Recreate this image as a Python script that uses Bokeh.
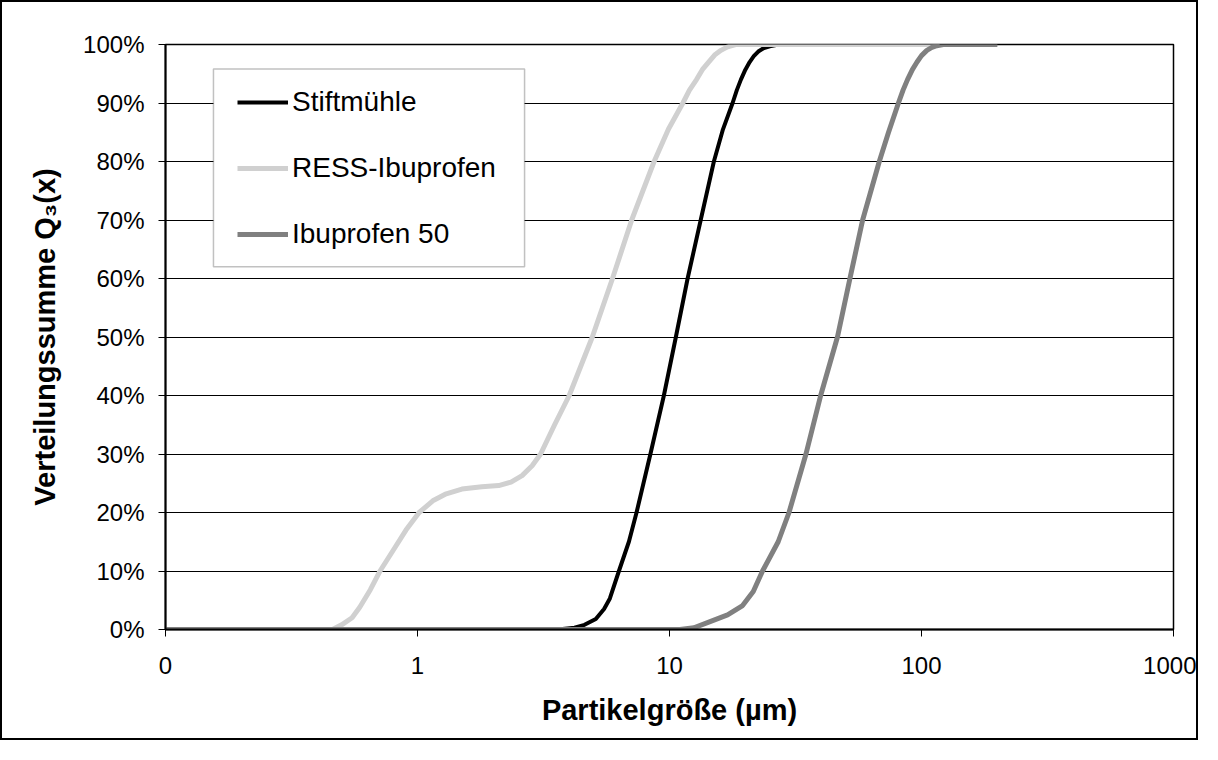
from bokeh.plotting import figure
from bokeh.models import FixedTicker, CustomJSTickFormatter, Legend, LegendItem, BoxAnnotation
from bokeh.embed import file_html
from bokeh.resources import INLINE

# ---- data (particle size in µm, cumulative distribution Q3 in %) ----
stift_x = [0.1, 3.6, 4.2, 4.6, 5.1, 5.5, 5.8, 6.3, 6.9, 7.4, 8.4, 9.5, 10.6, 11.8, 13.3, 15.0,
           16.3, 17.8, 18.5, 19.2, 20.0, 20.8, 21.6, 22.5, 23.7, 25, 26.5, 28, 120]
stift_y = [0, 0, 0.3, 0.8, 1.8, 3.5, 5.3, 10, 15, 20, 30, 40, 50, 60, 70, 80,
           85.5, 90, 92.2, 94, 95.7, 97, 98, 98.8, 99.4, 99.7, 99.9, 100, 100]

ress_x = [0.1, 0.46, 0.5, 0.55, 0.59, 0.65, 0.71, 0.8, 0.9, 1.015, 1.15, 1.3, 1.5, 1.8,
          2.1, 2.35, 2.6, 2.85, 3.08, 3.5, 4.0, 4.94, 5.94, 7.08, 8.69, 9.9, 11.3,
          12.0, 12.8, 13.5, 14.3, 15.1, 16, 17, 18.3, 118]
ress_y = [0, 0, 0.8, 2, 3.8, 6.8, 10, 13.5, 17, 20, 22, 23.2, 24, 24.4,
          24.6, 25.2, 26.3, 28, 30, 35, 40, 50, 60, 70, 80, 85.5, 90,
          92.2, 94, 95.7, 97, 98.2, 99, 99.6, 100, 100]

ibu_x = [0.1, 11, 12.5, 14.4, 17, 19.5, 21.5, 23.4, 27, 29.8, 34.8, 39.8, 46.4, 52, 58.4,
         68, 74, 81, 84.5, 88, 92, 96, 100, 105, 110, 115, 122, 200]
ibu_y = [0, 0, 0.3, 1.3, 2.5, 4.1, 6.5, 10, 15, 20, 30, 40, 50, 60, 70,
         80, 85, 90, 92.2, 94, 95.7, 97, 98.1, 99, 99.5, 99.8, 100, 100]

series_names = ["Stiftmühle", "RESS-Ibuprofen", "Ibuprofen 50"]
x_ticks = [0.1, 1, 10, 100, 1000]
y_ticks = [0, 10, 20, 30, 40, 50, 60, 70, 80, 90, 100]
y_tick_labels = {t: f"{t}%" for t in y_ticks}

FONT = "Liberation Sans"

p = figure(width=1198, height=740, x_axis_type="log", x_range=(0.1, 1000), y_range=(0, 100),
           output_backend="svg", toolbar_location=None,
           min_border_left=163, min_border_right=27, min_border_top=42, min_border_bottom=113,
           styles={"border": "2px solid black"})

p.background_fill_color = "white"
p.border_fill_color = "white"
p.outline_line_color = "black"
p.outline_line_width = 1.5

# axes
p.xaxis.ticker = FixedTicker(ticks=x_ticks, minor_ticks=[])
p.xaxis.formatter = CustomJSTickFormatter(code="return tick < 0.5 ? '0' : Math.round(tick).toString();")
p.yaxis.ticker = FixedTicker(ticks=y_ticks, minor_ticks=[])
p.yaxis.major_label_overrides = y_tick_labels

for ax in (p.xaxis[0], p.yaxis[0]):
    ax.major_tick_in = 0
    ax.major_tick_out = 7
    ax.minor_tick_in = 0
    ax.minor_tick_out = 0
    ax.major_tick_line_color = "black"
    ax.major_tick_line_width = 1
    ax.axis_line_color = "black"
    ax.axis_line_width = 2
    ax.major_label_text_font = FONT
    ax.major_label_text_font_size = "24px"
    ax.major_label_text_color = "black"
    ax.axis_label_text_font = FONT
    ax.axis_label_text_font_style = "bold"
    ax.axis_label_text_color = "black"
    ax.axis_label_text_font_size = "29px"

p.xaxis.axis_label = "Partikelgröße (µm)"
p.xaxis.major_label_standoff = 20
p.xaxis.axis_label_standoff = 17
p.yaxis.axis_label = "Verteilungssumme Q₃(x)"
p.yaxis.major_label_standoff = 14
p.yaxis.axis_label_standoff = 19

p.xgrid.visible = False
p.ygrid.grid_line_color = "black"
p.ygrid.grid_line_width = 1

r1 = p.line(stift_x, stift_y, line_color="black", line_width=4, line_join="round")
r2 = p.line(ress_x, ress_y, line_color="#d0d0d0", line_width=5, line_join="round")
r3 = p.line(ibu_x, ibu_y, line_color="#808080", line_width=5, line_join="round")

# legend frame (drawn separately so the inner spacing can match)
legend_box = BoxAnnotation(left=0.155, right=2.66, top=95.8, bottom=62.0,
                           fill_color="white", fill_alpha=1.0,
                           line_color="#333333", line_width=1.5)
p.add_layout(legend_box)

legend = Legend(items=[LegendItem(label=series_names[0], renderers=[r1]),
                       LegendItem(label=series_names[1], renderers=[r2]),
                       LegendItem(label=series_names[2], renderers=[r3])],
                location=(72, 378), margin=0, padding=0, spacing=32,
                glyph_width=51, glyph_height=34, label_height=34,
                label_standoff=4,
                label_text_font=FONT, label_text_font_size="28px", label_text_color="black",
                border_line_alpha=0, background_fill_alpha=0)
p.add_layout(legend)

open("out.html", "w").write(file_html(p, INLINE))
